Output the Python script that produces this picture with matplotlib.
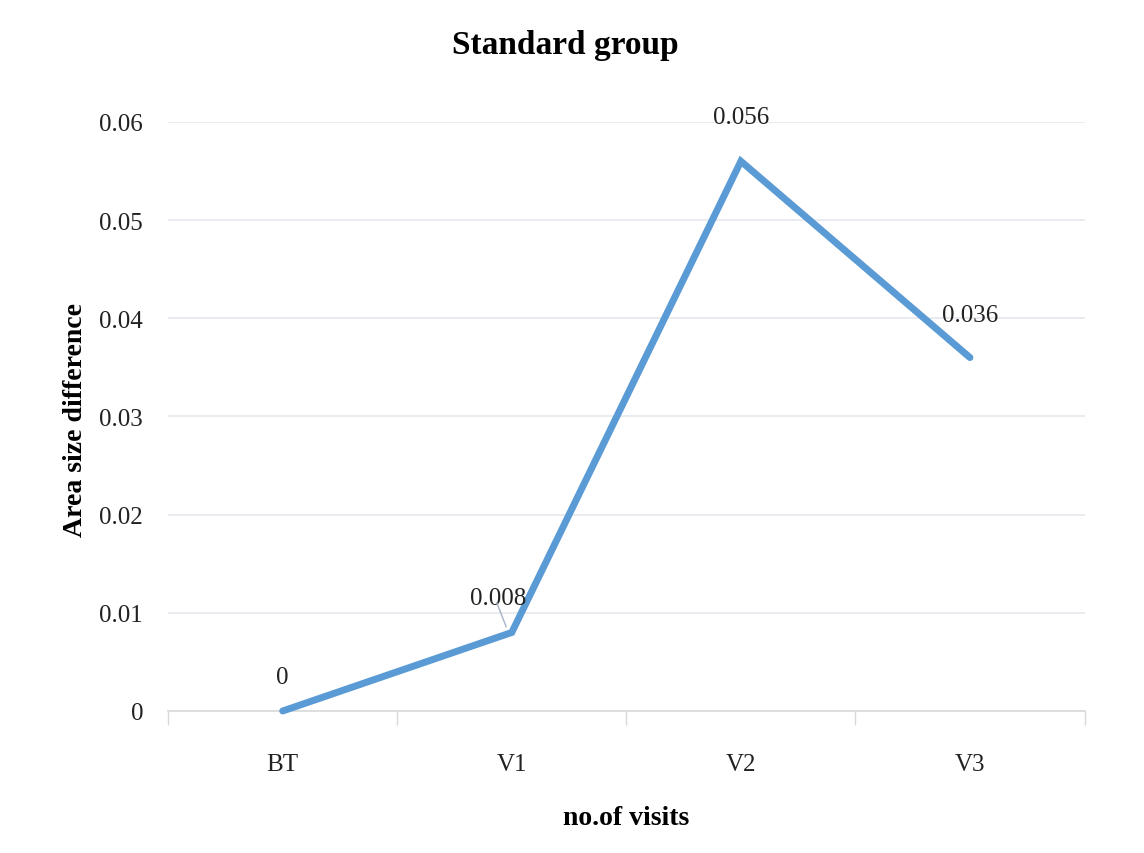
import numpy as np
import matplotlib.pyplot as plt

visits = ['BT', 'V1', 'V2', 'V3']
area_diff = [0, 0.008, 0.056, 0.036]
labels = ['0', '0.008', '0.056', '0.036']
yticks = [0, 0.01, 0.02, 0.03, 0.04, 0.05, 0.06]
ytick_labels = ['0', '0.01', '0.02', '0.03', '0.04', '0.05', '0.06']

plt.rcParams['font.family'] = ['Liberation Serif', 'DejaVu Serif']

fig = plt.figure(figsize=(11.44, 8.54), dpi=100)
ax = fig.add_axes([0.147, 0.1663, 0.801, 0.6897])

x = np.arange(len(visits))
ax.plot(x, area_diff, color='#5B9BD5', linewidth=5, solid_capstyle='round',
        solid_joinstyle='miter', clip_on=False, zorder=3)

ax.set_xlim(-0.5, len(visits) - 0.5)
ax.set_ylim(0, 0.06)
ax.set_yticks(yticks)
ax.set_yticklabels(ytick_labels, fontsize=18, color='#222222')
ax.set_xticks(x)
ax.set_xticklabels(visits, fontsize=18, color='#222222')
ax.tick_params(axis='y', length=0, pad=18)
ax.tick_params(axis='x', length=0, pad=30)

# category boundary ticks
ax.set_xticks(np.arange(-0.5, len(visits), 1), minor=True)
ax.tick_params(axis='x', which='minor', length=10, color='#D9D9D9', width=1)

ax.grid(axis='y', color='#E4E8EE', linewidth=1.2)
ax.set_axisbelow(True)
for s in ['top', 'right', 'left']:
    ax.spines[s].set_visible(False)
ax.spines['bottom'].set_color('#D9D9D9')
ax.spines['bottom'].set_linewidth(1.2)

# data labels
offsets = [(0, 0.0035), (-0.06, 0.0035), (0, 0.0045), (0, 0.0043)]
for i, (v, t) in enumerate(zip(area_diff, labels)):
    dx, dy = offsets[i]
    ax.text(i + dx, v + dy, t, ha='center', va='center', fontsize=18, color='#222222')
ax.annotate('', xy=(0.98, 0.0083), xytext=(0.93, 0.0113),
            arrowprops=dict(arrowstyle='-', color='#A6B3C6', lw=1))

fig.text(0.494, 0.947, 'Standard group', ha='center', va='center',
         fontsize=24, fontweight='bold')
fig.text(0.066, 0.508, 'Area size difference', ha='center', va='center',
         rotation=90, fontsize=20, fontweight='bold')
ax.set_xlabel('no.of visits', fontsize=20, fontweight='bold', labelpad=22)

fig.savefig('out.png', dpi=100)
